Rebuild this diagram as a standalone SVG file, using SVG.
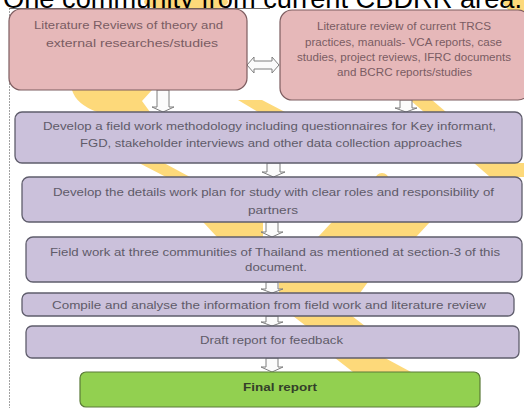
<svg xmlns="http://www.w3.org/2000/svg" width="524" height="408" viewBox="0 0 524 408">
<style>
.title{font-family:"Liberation Sans",Arial,sans-serif;font-size:27px;fill:#000}
.t{font-family:"Liberation Sans",Arial,sans-serif;font-size:11px}
.pk{fill:#e6b8b9;stroke:#7d5d60;stroke-width:1.2}
.pu{fill:#cbc1db;stroke:#5f5d6c;stroke-width:1.3}
.gr{fill:#92d050;stroke:#5a7a38;stroke-width:1.2}
.tp{fill:#7a5c63}
.tu{fill:#5f5b69}
.tg{fill:#34402a;font-weight:bold}
.ar{fill:#fbfbfb;stroke:#7f7f7f;stroke-width:1}
.y{fill:#fdd97a}
</style>
<rect width="524" height="408" fill="#fff"/>
<g id="background">
<ellipse class="y" cx="186" cy="2" rx="42" ry="10"/>
<path class="y" d="M500,0 L524,0 L524,12 L510,12 Z"/>
<path class="y" d="M72,90 L152,90 L142,101 L150,112 L97,112 Q76,104 72,90 Z"/>
<path class="y" d="M238,100 L262,100 L285,112 L258,112 Z"/>
<path class="y" d="M410,100 L432,100 L446,112 L424,112 Z"/>
<path class="y" d="M139,163 L164,163 L190,177 L166,177 Z"/>
<path class="y" d="M474,163 L524,163 L524,177 L490,177 Z"/>
<circle class="y" cx="382" cy="180" r="7"/>
<path class="y" d="M203,222 L263,222 L263,237 L217,237 Z"/>
<path class="y" d="M332,222 L430,222 L416,237 L318,237 Z"/>
<path class="y" d="M279,282 L368,282 L360,293 L279,293 Z"/>
<path class="y" d="M293,316 L352,316 L365,326 L306,326 Z"/>
<path class="y" d="M335,358 L385,358 L411,372 L353,372 Z"/>
</g>
<text class="title" x="3" y="8" textLength="519" lengthAdjust="spacingAndGlyphs">One community from current CBDRR area.</text>
<g id="frame" fill="none">
<line x1="9" y1="8.5" x2="270" y2="8.5" stroke="#444" stroke-width="0.8"/>
<line x1="9.5" y1="8" x2="9.5" y2="408" stroke="#8a8a8a" stroke-width="0.8" stroke-dasharray="2 1"/>
</g>
<g id="connectors">
<path class="ar" d="M247,65 L254,57 V61 H272 V57 L279,65 L272,73 V69 H254 V73 Z"/>
<path class="ar" d="M157,90 H169 V107 H174 L163,112 L152,107 H157 Z"/>
<path class="ar" d="M400,100 H412 V108 H417 L406,112 L395,108 H400 Z"/>
<path class="ar" d="M267,163 H280 V172 H285 L273.5,177 L262,172 H267 Z"/>
<path class="ar" d="M266,222 H278 V232 H283 L272,237 L261,232 H266 Z"/>
<path class="ar" d="M266,282 H278 V289 H283 L272,293 L261,289 H266 Z"/>
<path class="ar" d="M266,316 H278 V322 H283 L272,326 L261,322 H266 Z"/>
<path class="ar" d="M266,358 H278 V367 H283 L272,372 L261,367 H266 Z"/>
</g>
<g id="n1">
<rect class="pk" x="9" y="9" width="238" height="81" rx="12"/>
<text class="t tp" x="34" y="29" textLength="189" lengthAdjust="spacingAndGlyphs">Literature Reviews of theory and</text>
<text class="t tp" x="46" y="47" textLength="172" lengthAdjust="spacingAndGlyphs">external researches/studies</text>
</g>
<g id="n2">
<rect class="pk" x="280" y="10" width="250" height="90" rx="12"/>
<text class="t tp" x="317" y="30" textLength="174" lengthAdjust="spacingAndGlyphs">Literature review of current TRCS</text>
<text class="t tp" x="305" y="45.5" textLength="197" lengthAdjust="spacingAndGlyphs">practices, manuals- VCA reports, case</text>
<text class="t tp" x="297" y="61" textLength="214" lengthAdjust="spacingAndGlyphs">studies, project reviews, IFRC documents</text>
<text class="t tp" x="337" y="76" textLength="135" lengthAdjust="spacingAndGlyphs">and BCRC reports/studies</text>
</g>
<g id="n3">
<rect class="pu" x="15" y="112" width="507" height="51" rx="7"/>
<text class="t tu" x="43" y="130" textLength="453" lengthAdjust="spacingAndGlyphs">Develop a field work methodology including questionnaires for Key informant,</text>
<text class="t tu" x="80" y="147" textLength="382" lengthAdjust="spacingAndGlyphs">FGD, stakeholder interviews and other data collection approaches</text>
</g>
<g id="n4">
<rect class="pu" x="22" y="177" width="500" height="45" rx="7"/>
<text class="t tu" x="53" y="196" textLength="441" lengthAdjust="spacingAndGlyphs">Develop the details work plan for study with clear roles and responsibility of</text>
<text class="t tu" x="248" y="214" textLength="50" lengthAdjust="spacingAndGlyphs">partners</text>
</g>
<g id="n5">
<rect class="pu" x="26" y="237" width="496" height="45" rx="7"/>
<text class="t tu" x="50" y="256" textLength="450" lengthAdjust="spacingAndGlyphs">Field work at three communities of Thailand as mentioned at section-3 of this</text>
<text class="t tu" x="245" y="271" textLength="62" lengthAdjust="spacingAndGlyphs">document.</text>
</g>
<g id="n6">
<rect class="pu" x="22" y="293" width="492" height="23" rx="6"/>
<text class="t tu" x="52" y="309" textLength="434" lengthAdjust="spacingAndGlyphs">Compile and analyse the information from field work and literature review</text>
</g>
<g id="n7">
<rect class="pu" x="26" y="326" width="493" height="32" rx="6"/>
<text class="t tu" x="200" y="344" textLength="143" lengthAdjust="spacingAndGlyphs">Draft report for feedback</text>
</g>
<g id="n8">
<rect class="gr" x="80" y="372" width="400" height="35" rx="6"/>
<text class="t tg" x="243" y="391" textLength="74" lengthAdjust="spacingAndGlyphs">Final report</text>
</g>
</svg>
